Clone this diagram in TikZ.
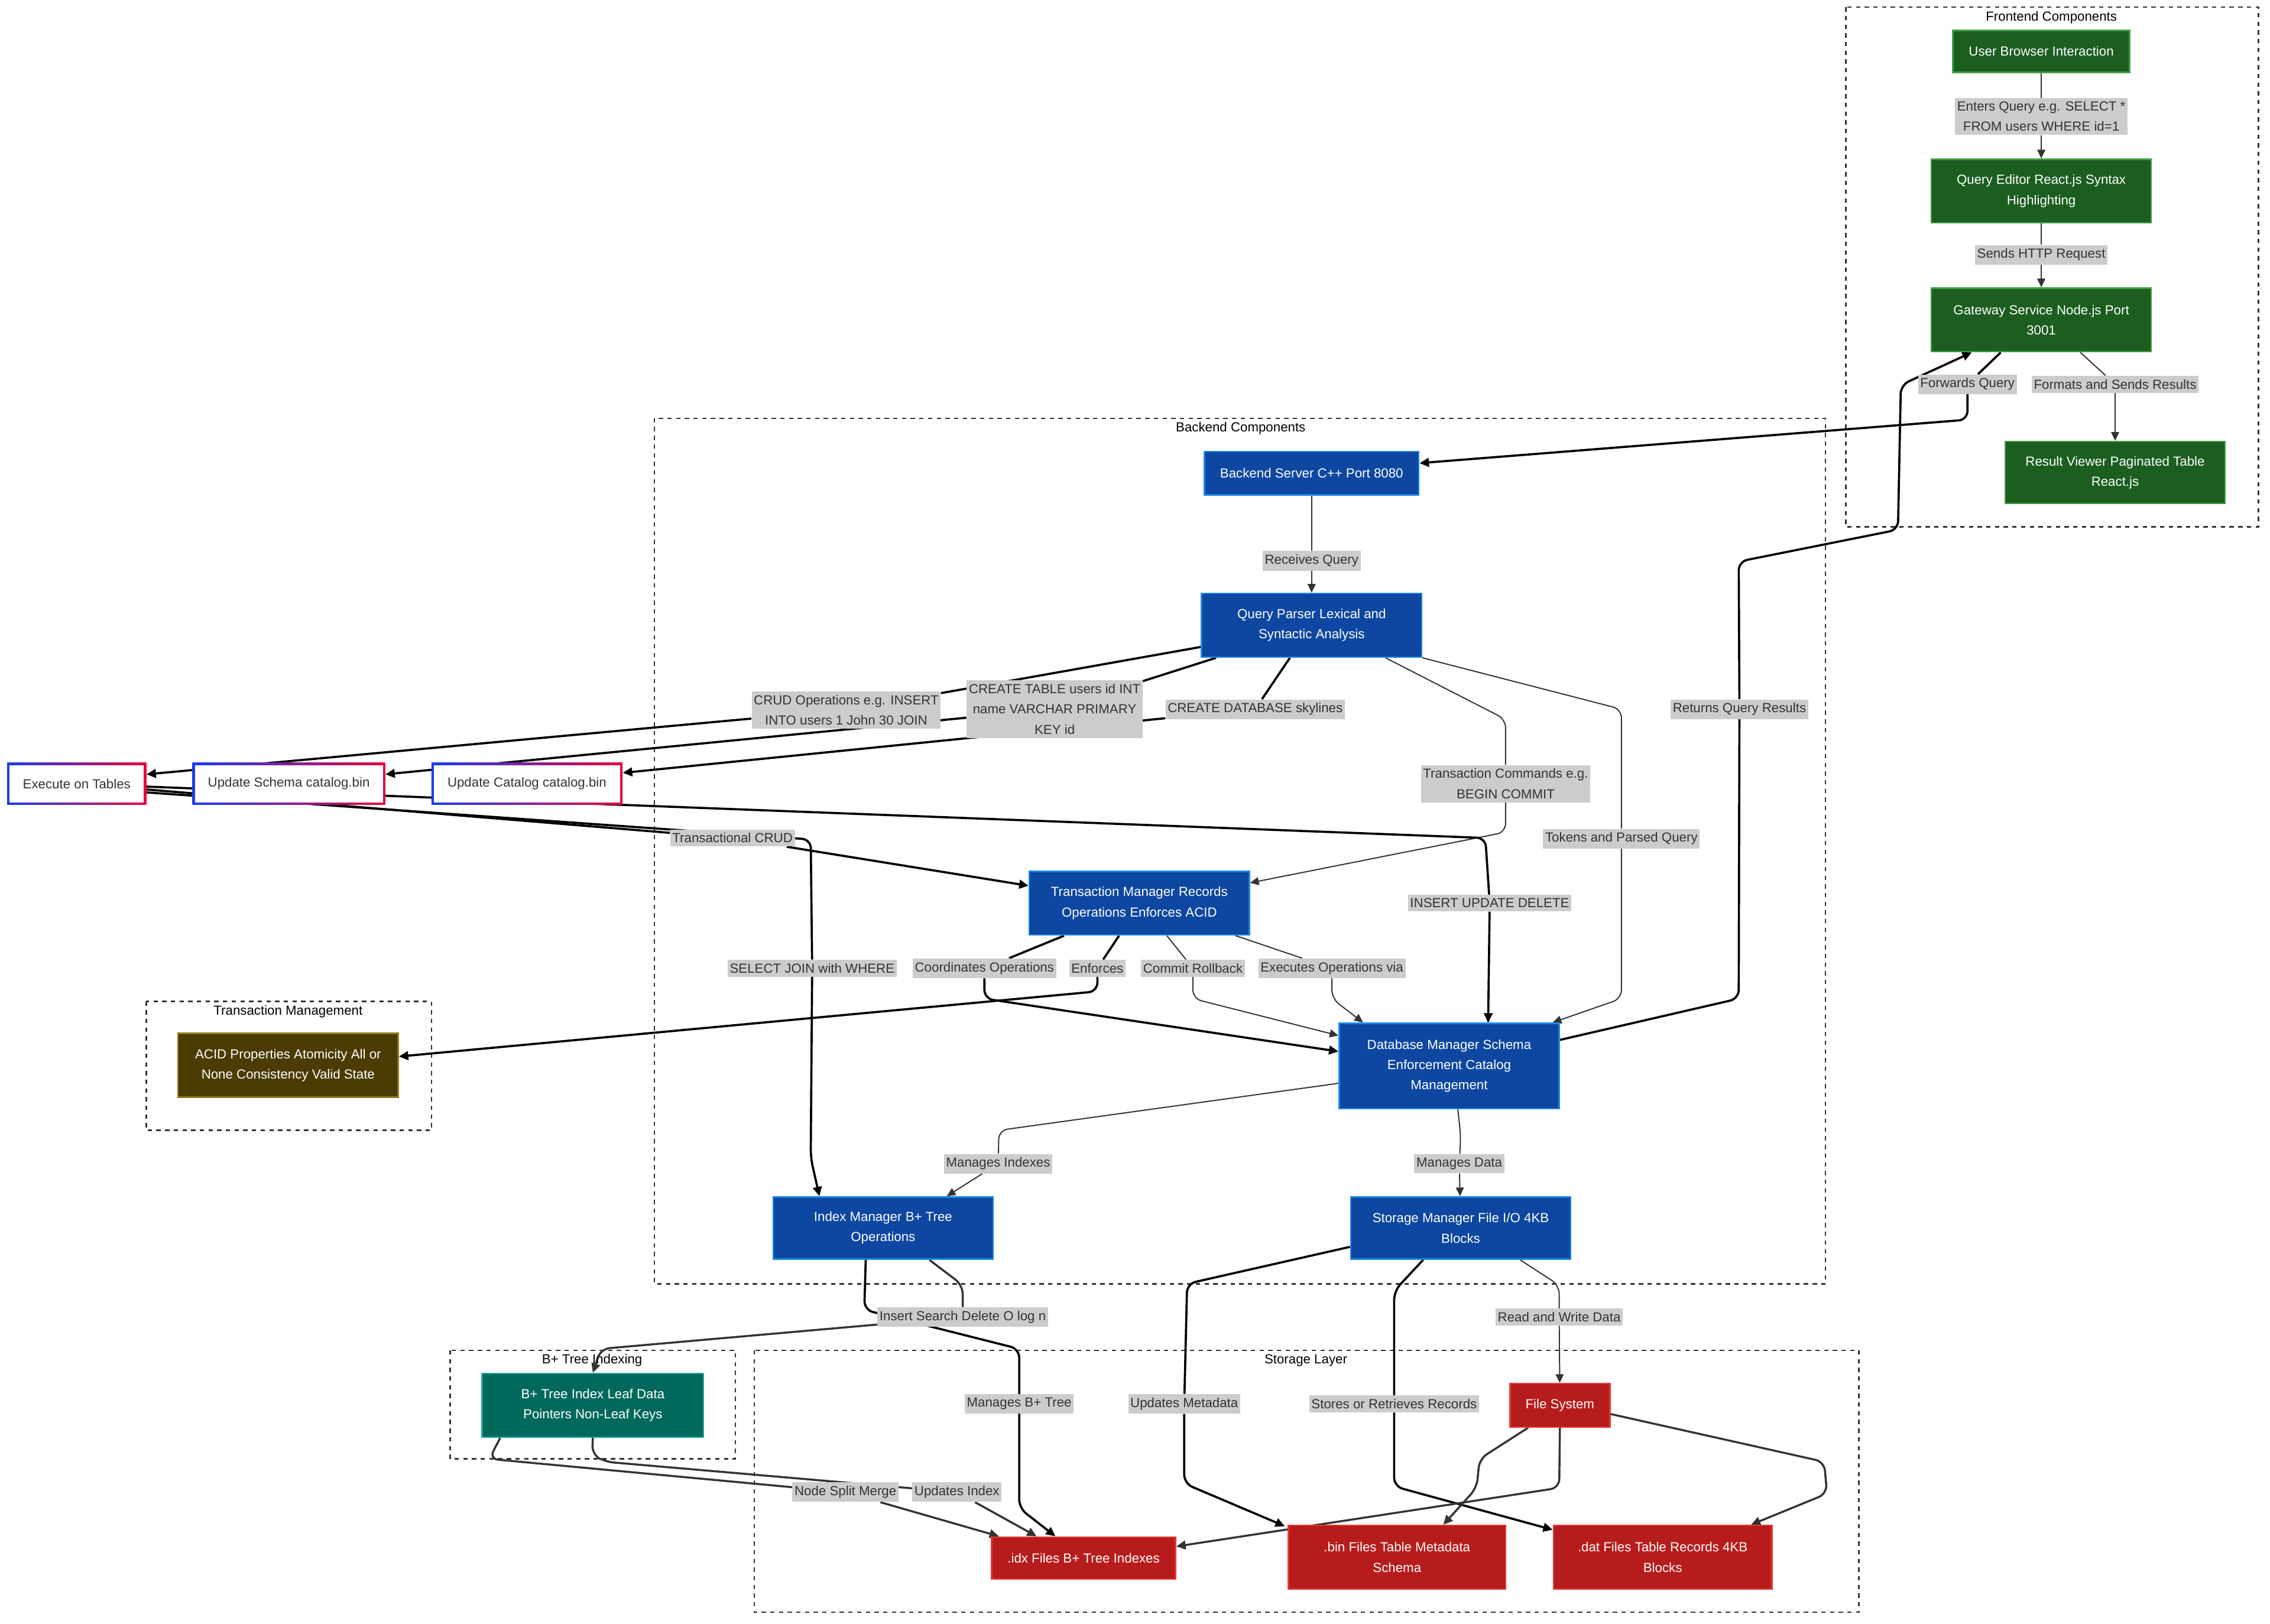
\documentclass[tikz,border=0pt]{standalone}
\usepackage{fontspec}
\setmainfont{Liberation Sans}
\usetikzlibrary{arrows.meta,backgrounds}

\definecolor{txt}{HTML}{333333}
\definecolor{lblgray}{HTML}{CCCCCC}
\definecolor{frontfill}{HTML}{1B5E20}
\definecolor{frontline}{HTML}{43A047}
\definecolor{backfill}{HTML}{0D47A1}
\definecolor{backline}{HTML}{1E88E5}
\definecolor{storefill}{HTML}{B71C1C}
\definecolor{storeline}{HTML}{E53935}
\definecolor{treefill}{HTML}{00695C}
\definecolor{treeline}{HTML}{26A69A}
\definecolor{acidfill}{HTML}{4A3C03}
\definecolor{acidline}{HTML}{8C7B1E}
\definecolor{gradblue}{HTML}{1A3CF0}
\definecolor{gradred}{HTML}{E8063C}

\begin{document}
\begin{tikzpicture}[x=1pt, y=-1pt,
  font=\fontsize{9.1}{14}\selectfont,
  solid box/.style={rectangle, line width=1pt, inner sep=0pt, align=center, text=white},
  frontbox/.style={solid box, fill=frontfill, draw=frontline},
  backbox/.style={solid box, fill=backfill, draw=backline},
  storebox/.style={solid box, fill=storefill, draw=storeline},
  treebox/.style={solid box, fill=treefill, draw=treeline},
  acidbox/.style={solid box, fill=acidfill, draw=acidline},
  opbox/.style={rectangle, fill=white, inner sep=0pt, minimum height=29pt, text=txt,
    path picture={
      \shade[left color=gradblue, right color=gradred]
        (path picture bounding box.south west) rectangle (path picture bounding box.north east);
      \fill[white] ([shift={(1.6pt,1.6pt)}]path picture bounding box.south west)
        rectangle ([shift={(-1.6pt,-1.6pt)}]path picture bounding box.north east);}},
  lbl/.style={fill=lblgray, text=txt, inner xsep=1.5pt, inner ysep=2.5pt, align=center},
  grp/.style={draw=txt, line width=1pt, sharp corners, dash pattern=on 3pt off 3pt},
  title/.style={text=black, inner sep=0pt},
  flow/.style={draw=txt, line width=0.8pt, -{Triangle[length=6pt,width=5.5pt]}},
  bold/.style={draw=black, line width=1.5pt, -{Triangle[length=6.5pt,width=6pt]}},
  heavy/.style={draw=txt, line width=1.4pt, -{Triangle[length=6.5pt,width=6pt]}}
]
  \useasboundingbox (0,0) rectangle (1568,1122);

  % group titles
  \node[title] (tFront) at (1417,12) {Frontend Components};
  \node[title] (tBack) at (857,296) {Backend Components};
  \node[title] (tTrans) at (199,699) {Transaction Management};
  \node[title] (tTree) at (409,940) {B+ Tree Indexing};
  \node[title] (tStore) at (902,940) {Storage Layer};

  % frontend
  \node[frontbox, minimum width=122pt, minimum height=29pt] (user) at (1410,35.5) {User Browser Interaction};
  \node[frontbox, minimum width=152pt, minimum height=44pt] (qed) at (1410,132) {Query Editor React.js Syntax\\Highlighting};
  \node[frontbox, minimum width=152pt, minimum height=44pt] (gw) at (1410,221) {Gateway Service Node.js Port\\3001};
  \node[frontbox, minimum width=152pt, minimum height=43pt] (rv) at (1461,326.5) {Result Viewer Paginated Table\\React.js};

  % backend
  \node[backbox, minimum width=148pt, minimum height=30pt] (bsrv) at (906,327) {Backend Server C++ Port 8080};
  \node[backbox, minimum width=152pt, minimum height=44pt] (qp) at (906,432) {Query Parser Lexical and\\Syntactic Analysis};
  \node[backbox, minimum width=152pt, minimum height=44pt] (tm) at (787,624) {Transaction Manager Records\\Operations Enforces ACID};
  \node[backbox, minimum width=152pt, minimum height=59pt] (dbm) at (1001,736.5) {Database Manager Schema\\Enforcement Catalog\\Management};
  \node[backbox, minimum width=152pt, minimum height=43pt] (im) at (610,848.5) {Index Manager B+ Tree\\Operations};
  \node[backbox, minimum width=152pt, minimum height=43pt] (sm) at (1009,848.5) {Storage Manager File I/O 4KB\\Blocks};

  % operations
  \node[opbox, minimum width=96pt] (exec) at (53,541.5) {Execute on Tables};
  \node[opbox, minimum width=133pt] (schema) at (199.5,541.5) {Update Schema catalog.bin};
  \node[opbox, minimum width=132pt] (catalog) at (364,541.5) {Update Catalog catalog.bin};

  \node[acidbox, minimum width=152pt, minimum height=44pt] (acid) at (199,736) {ACID Properties Atomicity All or\\None Consistency Valid State};
  \node[treebox, minimum width=153pt, minimum height=44pt] (bpt) at (409.5,971) {B+ Tree Index Leaf Data\\Pointers Non-Leaf Keys};

  % storage
  \node[storebox, minimum width=69pt, minimum height=30pt] (fs) at (1077.5,971) {File System};
  \node[storebox, minimum width=127pt, minimum height=29pt] (idx) at (748.5,1076.5) {.idx Files B+ Tree Indexes};
  \node[storebox, minimum width=150pt, minimum height=44pt] (bin) at (965,1076) {.bin Files Table Metadata\\Schema};
  \node[storebox, minimum width=151pt, minimum height=44pt] (dat) at (1148.5,1076) {.dat Files Table Records 4KB\\Blocks};

  % edge labels
  \node[lbl] (lEnters) at (1410,80.5) {Enters Query e.g. SELECT *\\FROM users WHERE id=1};
  \node[lbl] (lHttp) at (1410,176) {Sends HTTP Request};
  \node[lbl] (lFwd) at (1359,265.5) {Forwards Query};
  \node[lbl] (lFmt) at (1461,265.5) {Formats and Sends Results};
  \node[lbl] (lRecv) at (906,387.5) {Receives Query};
  \node[lbl] (lCrud) at (584.5,490.5) {CRUD Operations e.g. INSERT\\INTO users 1 John 30 JOIN};
  \node[lbl] (lTable) at (728.5,490) {CREATE TABLE users id INT\\name VARCHAR PRIMARY\\KEY id};
  \node[lbl] (lDb) at (867,490) {CREATE DATABASE skylines};
  \node[lbl] (lTxc) at (1040,541.5) {Transaction Commands e.g.\\BEGIN COMMIT};
  \node[lbl] (lTok) at (1120,579.5) {Tokens and Parsed Query};
  \node[lbl] (lRet) at (1201.5,490) {Returns Query Results};
  \node[lbl] (lTcrud) at (506,579) {Transactional CRUD};
  \node[lbl] (lIud) at (1029,624) {INSERT UPDATE DELETE};
  \node[lbl] (lSel) at (561,669) {SELECT JOIN with WHERE};
  \node[lbl] (lCoord) at (680,669) {Coordinates Operations};
  \node[lbl] (lEnf) at (758,669) {Enforces};
  \node[lbl] (lCmt) at (824,669) {Commit Rollback};
  \node[lbl] (lExe) at (920,669) {Executes Operations via};
  \node[lbl] (lMidx) at (689.5,804) {Manages Indexes};
  \node[lbl] (lMdat) at (1008,804) {Manages Data};
  \node[lbl] (lIns) at (665,910) {Insert Search Delete O log n};
  \node[lbl] (lRw) at (1077,910) {Read and Write Data};
  \node[lbl] (lMbt) at (704,970) {Manages B+ Tree};
  \node[lbl] (lUmeta) at (818,970) {Updates Metadata};
  \node[lbl] (lStore) at (963,970) {Stores or Retrieves Records};
  \node[lbl] (lSplit) at (584,1031) {Node Split Merge};
  \node[lbl] (lUidx) at (661,1031) {Updates Index};

  \begin{scope}[on background layer, rounded corners=6pt]
    \fill[white] (0,0) rectangle (1568,1122);
    \draw[grp] (1275,5) rectangle (1560,364);
    \draw[grp] (452,289) rectangle (1261,887);
    \draw[grp] (101,692) rectangle (298,781);
    \draw[grp] (311,933) rectangle (508,1008);
    \draw[grp] (521,933) rectangle (1284,1114);

    % frontend flow
    \draw[flow] (user) -- (lEnters) -- (qed);
    \draw[flow] (qed) -- (lHttp) -- (gw);
    \draw[bold] ([xshift=-28pt]gw.south) -- (lFwd) -- (1359,290) -- ([yshift=7pt]bsrv.east);
    \draw[flow] ([xshift=27pt]gw.south) -- (lFmt) -- (rv);
    \draw[bold] ([yshift=18pt]dbm.east) -- (1201,690) -- (lRet) -- (1201,388) -- (1311,366)
      -- (1313,266) -- ([xshift=-48pt]gw.south);

    % parser
    \draw[flow] (bsrv) -- (lRecv) -- (qp);
    \draw[bold] ([yshift=-15pt]qp.west) -- (lCrud) -- ([yshift=6.5pt]exec.east);
    \draw[bold] ([xshift=-66pt]qp.south) -- (lTable) -- ([yshift=6.5pt]schema.east);
    \draw[bold] ([xshift=-15pt]qp.south) -- (lDb) -- ([yshift=7.5pt]catalog.east);
    \draw[flow] ([xshift=51pt]qp.south) -- (1040,497) -- (lTxc) -- (1040,575) -- ([yshift=14pt]tm.east);
    \draw[flow] (qp.south east) -- (1120,490) -- (lTok) -- (1120,690) -- ([xshift=-5pt]dbm.north east);

    % execution
    \draw[bold] ([yshift=-2pt]exec.east) -- (1026,579) -- (lIud) -- (1028,700) -- ([xshift=27pt]dbm.north);
    \draw[bold] ([yshift=-4pt]exec.east) -- (lTcrud) -- ([yshift=12pt]tm.west);
    \draw[bold] ([yshift=-6pt]exec.east) -- (560,580) -- (lSel) -- (560,800) -- ([xshift=-44pt]im.north);

    % transaction manager
    \draw[bold] ([xshift=-52pt]tm.south) -- (lCoord) -- (680,690) -- ([yshift=10pt]dbm.west);
    \draw[bold] ([xshift=-14pt]tm.south) -- (lEnf) -- (758,685) -- ([yshift=6pt]acid.east);
    \draw[flow] ([xshift=19pt]tm.south) -- (lCmt) -- (824,690) -- ([yshift=21pt]dbm.west);
    \draw[flow] ([xshift=-10pt]tm.south east) -- (lExe) -- (920,690) -- ([xshift=17pt]dbm.north west);

    % database manager
    \draw[flow] ([yshift=-12pt]dbm.west) -- (690,781) -- (lMidx) -- ([xshift=44pt]im.north);
    \draw[flow] ([xshift=6pt]dbm.south) -- (1009,785) -- (lMdat) -- (sm);

    % index manager
    \draw[heavy] ([xshift=32pt]im.south) -- (665,888) -- (lIns) -- (415,932) -- (bpt.north);
    \draw[bold] ([xshift=-12pt]im.south) -- (597,905) -- (704,932) -- (lMbt) -- (704,1042)
      -- ([xshift=-19.5pt]idx.north);
    \draw[heavy] ([xshift=-64pt]bpt.south) -- (338,1008) -- (lSplit) -- ([xshift=-58.5pt]idx.north);
    \draw[heavy] (bpt.south) -- (409,1005) -- (418,1010) -- (lUidx) -- ([xshift=-32.5pt]idx.north);

    % storage manager
    \draw[flow] ([xshift=41pt]sm.south) -- (1077,888) -- (lRw) -- (fs);
    \draw[bold] ([yshift=-13pt]sm.west) -- (820,887) -- (lUmeta) -- (818,1025) -- ([xshift=-2pt,yshift=-1pt]bin.north west);
    \draw[bold] ([xshift=-26pt]sm.south) -- (963,892) -- (lStore) -- (963,1027) -- ([yshift=19pt]dat.west);

    % file system
    \draw[heavy] (fs.south) -- (1077,1028) -- ([yshift=8pt]idx.east);
    \draw[heavy] ([xshift=-22pt]fs.south) -- (1022,1008) -- (1020,1028) -- ([xshift=32pt]bin.north);
    \draw[heavy] ([yshift=-6pt]fs.east) -- (1260,1010) -- (1262,1032) -- ([xshift=61pt]dat.north);
  \end{scope}
\end{tikzpicture}
\end{document}
